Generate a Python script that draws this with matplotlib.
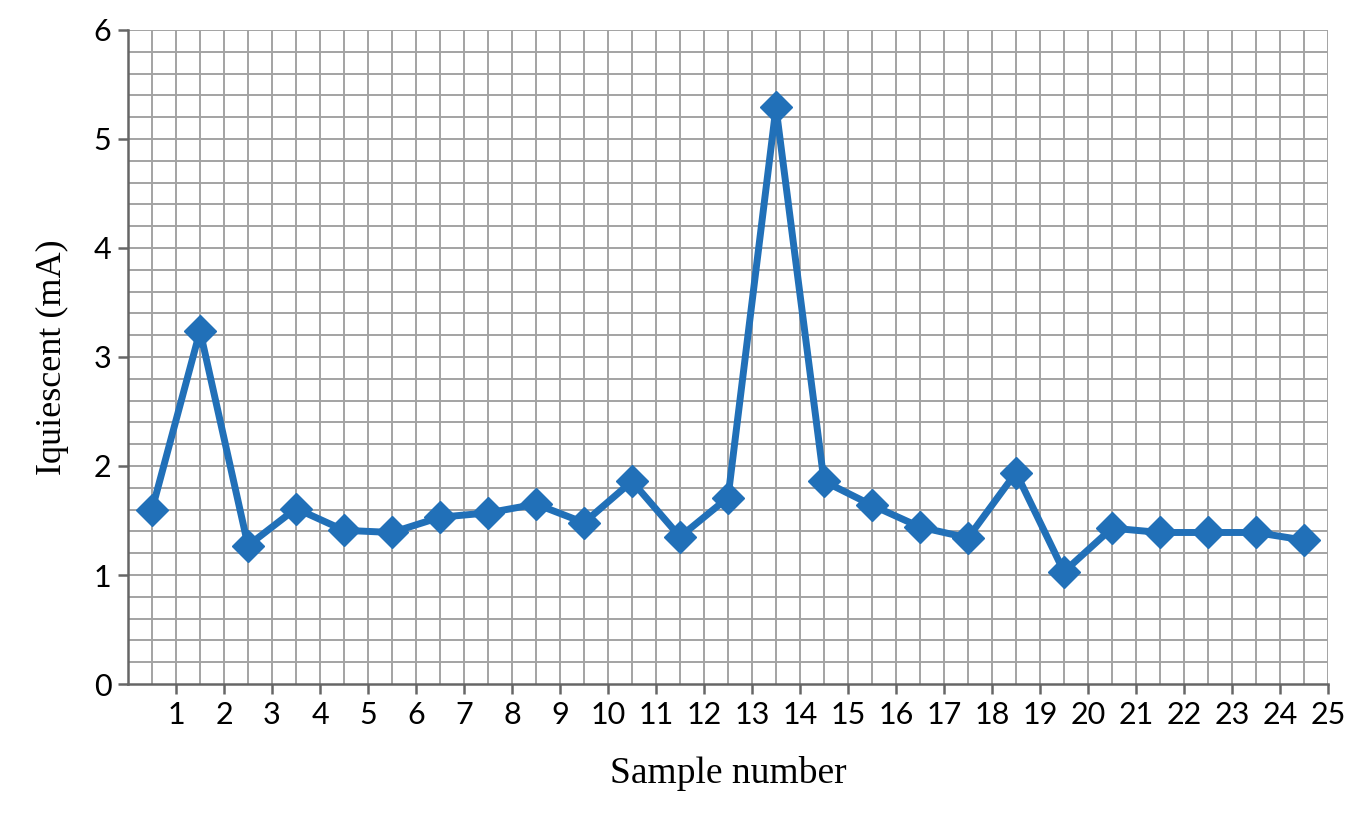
import matplotlib
matplotlib.use("Agg")
import matplotlib.pyplot as plt
import numpy as np

# Quiescent current per sample
samples = list(range(1, 26))
iq_ma = [1.60, 3.24, 1.27, 1.61, 1.41, 1.39, 1.53, 1.57, 1.65, 1.48,
         1.86, 1.35, 1.71, 5.29, 1.86, 1.64, 1.44, 1.34, 1.94, 1.03,
         1.43, 1.39, 1.39, 1.39, 1.32]
y_ticks = [0, 1, 2, 3, 4, 5, 6]

line_color = '#2170b8'
grid_color = '#a3a3a3'
axis_color = '#666666'

fig = plt.figure(figsize=(13.49, 8.24), dpi=100)
ax = fig.add_axes([0.0949, 0.1699, 0.8895, 0.7937])

# points sit in the middle of each category slot
x = np.array(samples) - 0.5
ax.plot(x, iq_ma, color=line_color, linewidth=5, marker='D',
        markersize=16, markerfacecolor=line_color, markeredgecolor=line_color,
        zorder=3, clip_on=False)

ax.set_xlim(0, 25)
ax.set_ylim(0, 6)

# grid: every half category, every 0.2 mA
for gx in np.arange(0.5, 25.01, 0.5):
    ax.axvline(gx, color=grid_color, linewidth=1.4, zorder=1)
for gy in np.arange(0.2, 6.01, 0.2):
    ax.axhline(gy, color=grid_color, linewidth=1.4, zorder=1)

ax.set_xticks(samples)
ax.set_xticklabels([str(s) for s in samples])
ax.set_yticks(y_ticks)
ax.set_yticklabels([str(v) for v in y_ticks])

for side in ['top', 'right']:
    ax.spines[side].set_visible(False)
for side in ['left', 'bottom']:
    ax.spines[side].set_color(axis_color)
    ax.spines[side].set_linewidth(1.8)

ax.tick_params(axis='both', direction='out', length=7, width=1.8,
               color=axis_color, labelsize=22, pad=5)
for lab in ax.get_xticklabels() + ax.get_yticklabels():
    lab.set_family('Lato')

ax.set_xlabel('Sample number', family='Liberation Serif', fontsize=27,
              labelpad=20)
ax.set_ylabel('Iquiescent (mA)', family='Liberation Serif', fontsize=26,
              labelpad=18)

fig.savefig('out.png', dpi=100)
